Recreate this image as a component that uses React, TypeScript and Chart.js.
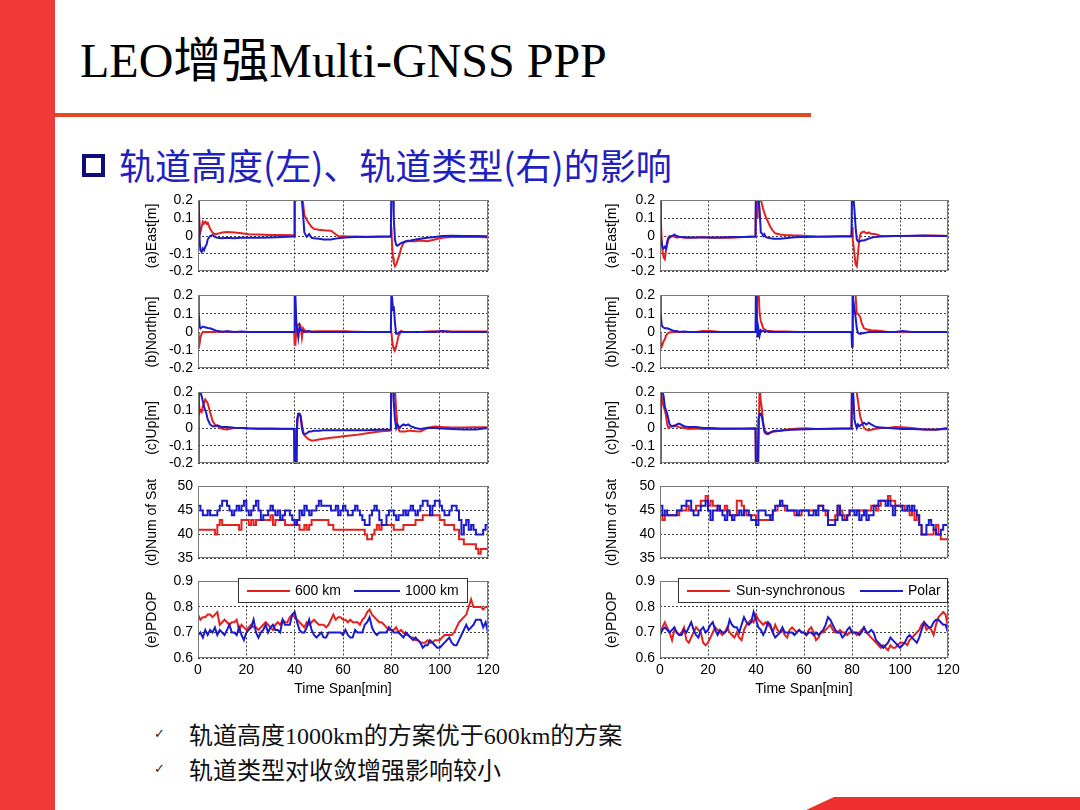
import React, { useEffect, useRef } from 'react';
import { Chart, registerables } from 'chart.js';
Chart.register(...registerables);
Chart.defaults.font.family = '"Liberation Sans", Arial, sans-serif';
Chart.defaults.color = '#000';

// ---------- time axes ----------
const T_POS = [0, 0.3, 0.7, 1, 1.5, 2, 2.5, 3, 3.5, 4, 5, 6, 7, 8, 10, 12, 15, 18, 21, 25, 30, 35, 39.8,
  40, 40.3, 40.7, 41, 41.5, 42, 42.5, 43, 43.5, 44, 45, 46, 47, 48, 50, 52, 55, 58, 61, 65, 70, 75, 79.8,
  80, 80.3, 80.7, 81, 81.5, 82, 82.5, 83, 83.5, 84, 85, 86, 87, 88, 90, 92, 95, 98, 101, 105, 110, 115, 120];
const MINUTES = Array.from({ length: 121 }, (_, i) => i);
const X_TICKS = [0, 20, 40, 60, 80, 100, 120];

// ---------- left: orbit height (600 km red, 1000 km blue) ----------
const eastL600 = [0.3, 0.15, 0.03, 0.02, 0.05, 0.08, 0.07, 0.08, 0.07, 0.075, 0.04, 0.02, 0.01, 0.012, 0.02, 0.022, 0.02, 0.015, 0.01, 0.008, 0.006, 0.005, 0.004,
  0.3, 0.35, 0.3, 0.3, 0.25, 0.3, 0.25, 0.22, 0.18, 0.12, 0.09, 0.07, 0.05, 0.04, 0.035, 0.032, 0.03, 0.0, -0.002, -0.003, -0.004, -0.003, -0.003,
  0.05, -0.05, -0.12, -0.15, -0.17, -0.16, -0.14, -0.12, -0.1, -0.07, -0.04, -0.03, -0.025, -0.03, -0.03, -0.025, -0.03, -0.02, -0.01, -0.005, -0.005, -0.004, -0.008];
const eastL1000 = [0.3, 0.2, -0.03, -0.08, -0.09, -0.07, -0.08, -0.06, -0.05, -0.02, 0.0, 0.005, -0.005, -0.01, -0.012, -0.01, -0.012, -0.01, -0.01, -0.01, -0.008, -0.005, -0.003,
  0.3, 0.3, 0.25, 0.22, 0.25, 0.22, 0.22, 0.2, 0.12, 0.02, -0.005, 0.01, -0.01, -0.012, -0.015, -0.02, -0.02, -0.012, -0.008, -0.006, -0.005, -0.004, -0.003,
  0.3, 0.3, 0.25, 0.1, -0.02, -0.05, -0.055, -0.05, -0.045, -0.04, -0.035, -0.03, -0.03, -0.025, -0.02, -0.015, -0.01, -0.005, 0.0, 0.002, 0.0, 0.0, -0.002];
const northL600 = [0.0, -0.09, -0.06, -0.03, -0.01, 0.0, 0.0, 0.0, 0.0, 0.0, 0.0, 0.0, 0.0, 0.003, 0.0, 0.003, 0.0, 0.0, 0.0, 0.0, 0.0, 0.0, 0.0,
  -0.07, -0.07, 0.02, 0.04, 0.04, 0.045, 0.03, -0.03, 0.02, 0.01, 0.005, 0.0, 0.003, 0.003, 0.004, 0.004, 0.004, 0.004, 0.004, 0.002, 0.0, 0.0, 0.0,
  0.0, -0.04, -0.08, -0.09, -0.1, -0.08, -0.05, -0.02, -0.01, 0.005, 0.0, 0.0, 0.0, 0.0, 0.0, 0.0, 0.003, 0.004, 0.003, 0.003, 0.003, 0.003, 0.003];
const northL1000 = [0.3, 0.1, 0.03, 0.02, 0.025, 0.03, 0.028, 0.025, 0.025, 0.022, 0.02, 0.015, 0.01, 0.005, 0.002, 0.004, 0.0, 0.003, 0.0, 0.0, 0.0, 0.0, 0.0,
  0.25, 0.2, 0.05, 0.02, -0.03, 0.03, 0.01, 0.01, 0.005, 0.0, 0.003, 0.005, 0.0, 0.0, 0.0, 0.0, 0.0, 0.0, 0.0, 0.0, 0.0, 0.0, 0.0,
  0.2, 0.19, 0.12, 0.14, 0.05, -0.01, -0.01, -0.005, 0.0, 0.0, 0.0, 0.0, 0.0, 0.0, 0.0, 0.0, 0.0, 0.0, 0.005, 0.0, 0.0, 0.0, 0.0];
const upL600 = [0.25, 0.15, 0.09, 0.1, 0.09, 0.12, 0.14, 0.16, 0.15, 0.14, 0.09, 0.04, 0.02, 0.01, -0.005, -0.008, 0.0, 0.0, -0.003, -0.005, -0.006, -0.005, -0.005,
  -0.3, -0.3, -0.25, 0.0, 0.08, 0.08, 0.07, 0.02, -0.02, -0.04, -0.055, -0.065, -0.07, -0.07, -0.065, -0.06, -0.055, -0.05, -0.045, -0.04, -0.03, -0.02, -0.015,
  0.3, 0.3, 0.3, 0.25, 0.22, 0.1, 0.02, -0.01, -0.02, -0.02, -0.02, -0.02, -0.015, -0.015, -0.018, -0.02, 0.0, 0.008, 0.005, 0.003, 0.003, 0.004, 0.004];
const upL1000 = [-0.3, 0.25, 0.2, 0.2, 0.18, 0.15, 0.12, 0.1, 0.08, 0.05, 0.02, 0.01, 0.01, 0.015, 0.005, 0.005, 0.002, 0.0, -0.002, -0.003, -0.003, -0.004, -0.004,
  -0.3, -0.3, -0.25, 0.05, 0.08, 0.08, 0.06, 0.0, -0.03, -0.035, -0.03, -0.02, -0.02, -0.015, -0.015, -0.012, -0.012, -0.012, -0.012, -0.012, -0.012, -0.01, -0.008,
  0.3, 0.3, 0.25, 0.15, 0.05, 0.0, 0.02, 0.01, 0.0, 0.01, 0.02, 0.015, 0.02, 0.01, 0.0, -0.005, 0.002, 0.0, -0.003, -0.005, -0.008, -0.008, 0.0];
const satL600 = [41, 41, 41, 41, 41, 41, 41, 40, 42, 43, 42, 42, 42, 42, 42, 42, 42, 41, 43, 43,
  43, 42, 43, 42, 43, 43, 43, 43, 43, 43, 44, 42, 43, 43, 43, 43, 42, 42, 42, 42,
  43, 42, 41, 41, 42, 41, 42, 43, 43, 43, 43, 43, 43, 43, 42, 42, 41, 41, 41, 41,
  41, 41, 41, 41, 41, 41, 41, 41, 41, 40, 39, 39, 40, 41, 42, 41, 42, 42, 42, 42,
  42, 41, 41, 41, 41, 42, 42, 42, 42, 42, 43, 43, 43, 44, 44, 44, 44, 44, 44, 44,
  43, 43, 42, 42, 42, 42, 41, 41, 39, 39, 38, 38, 38, 38, 38, 37, 36, 37, 37, 37, 37];
const satL1000 = [46, 45, 44, 44, 45, 44, 44, 44, 45, 46, 47, 47, 46, 45, 44, 45, 46, 45, 46, 47,
  45, 44, 45, 46, 47, 45, 43, 44, 44, 45, 46, 45, 44, 45, 43, 44, 45, 45, 44, 43,
  42, 43, 45, 44, 46, 45, 44, 45, 45, 46, 47, 46, 46, 46, 46, 45, 45, 46, 44, 45,
  46, 45, 44, 44, 45, 46, 45, 44, 43, 42, 42, 44, 45, 46, 45, 43, 42, 42, 44, 45,
  45, 44, 43, 44, 44, 45, 44, 45, 46, 45, 44, 45, 46, 47, 47, 46, 44, 46, 47, 47,
  46, 45, 44, 44, 45, 46, 46, 45, 43, 40, 42, 43, 41, 42, 41, 40, 40, 40, 41, 42, 42];
const pdopL600 = [0.77, 0.75, 0.76, 0.76, 0.77, 0.77, 0.76, 0.77, 0.78, 0.73, 0.74, 0.75, 0.74, 0.73, 0.74, 0.74, 0.75, 0.71, 0.73, 0.72,
  0.71, 0.72, 0.73, 0.72, 0.72, 0.71, 0.72, 0.73, 0.74, 0.73, 0.72, 0.71, 0.73, 0.74, 0.73, 0.75, 0.74, 0.74, 0.76, 0.77,
  0.76, 0.75, 0.74, 0.73, 0.72, 0.74, 0.73, 0.74, 0.75, 0.74, 0.73, 0.73, 0.73, 0.72, 0.73, 0.75, 0.77, 0.75, 0.76, 0.76,
  0.75, 0.75, 0.74, 0.75, 0.74, 0.74, 0.74, 0.73, 0.75, 0.76, 0.78, 0.79, 0.77, 0.76, 0.75, 0.74, 0.74, 0.73, 0.72, 0.71,
  0.71, 0.71, 0.72, 0.70, 0.71, 0.70, 0.69, 0.69, 0.68, 0.68, 0.67, 0.67, 0.66, 0.66, 0.66, 0.67, 0.66, 0.66, 0.67, 0.67,
  0.67, 0.68, 0.69, 0.69, 0.69, 0.69, 0.70, 0.72, 0.74, 0.75, 0.76, 0.77, 0.80, 0.83, 0.80, 0.80, 0.80, 0.80, 0.79, 0.80, 0.80];
const pdopL1000 = [0.69, 0.70, 0.68, 0.71, 0.69, 0.71, 0.70, 0.72, 0.69, 0.71, 0.70, 0.69, 0.71, 0.73, 0.70, 0.70, 0.69, 0.72, 0.69, 0.67,
  0.70, 0.71, 0.72, 0.75, 0.70, 0.68, 0.70, 0.71, 0.73, 0.70, 0.72, 0.73, 0.71, 0.71, 0.70, 0.75, 0.73, 0.73, 0.73, 0.77,
  0.78, 0.74, 0.71, 0.70, 0.70, 0.72, 0.75, 0.71, 0.69, 0.68, 0.69, 0.70, 0.68, 0.68, 0.70, 0.70, 0.70, 0.70, 0.70, 0.70,
  0.69, 0.71, 0.69, 0.68, 0.68, 0.71, 0.70, 0.70, 0.70, 0.73, 0.74, 0.76, 0.72, 0.70, 0.69, 0.70, 0.70, 0.70, 0.70, 0.72,
  0.71, 0.70, 0.70, 0.70, 0.69, 0.68, 0.70, 0.69, 0.68, 0.67, 0.68, 0.67, 0.66, 0.64, 0.65, 0.65, 0.67, 0.66, 0.65, 0.64,
  0.64, 0.65, 0.66, 0.67, 0.68, 0.66, 0.65, 0.65, 0.67, 0.69, 0.71, 0.73, 0.71, 0.72, 0.73, 0.75, 0.75, 0.75, 0.72, 0.74, 0.70];

// ---------- right: orbit type (sun-synchronous red, polar blue) ----------
const eastRSun = [0.3, 0.1, -0.02, -0.08, -0.12, -0.13, -0.08, -0.05, -0.02, 0.0, 0.0, -0.005, -0.01, -0.005, -0.01, -0.01, -0.008, -0.005, -0.01, -0.008, -0.01, -0.005, -0.003,
  0.3, 0.25, 0.1, 0.25, 0.3, 0.2, 0.18, 0.15, 0.13, 0.11, 0.08, 0.05, 0.03, 0.015, 0.008, 0.006, 0.004, 0.003, 0.0, -0.003, -0.004, -0.003, -0.002,
  0.05, -0.02, -0.06, -0.1, -0.16, -0.17, -0.1, -0.02, 0.01, 0.02, 0.025, 0.015, 0.02, 0.012, 0.01, 0.0, 0.0, 0.0, 0.0, 0.0, 0.002, 0.003, 0.0];
const eastRPolar = [0.3, 0.0, -0.04, -0.06, -0.07, -0.06, -0.07, -0.03, -0.01, -0.01, 0.0, 0.008, 0.0, -0.005, -0.005, -0.008, -0.008, -0.008, -0.008, -0.008, -0.006, -0.005, -0.003,
  0.3, 0.3, 0.25, 0.22, 0.15, 0.02, 0.015, 0.0, 0.01, -0.005, -0.01, -0.012, -0.015, -0.015, -0.015, -0.012, -0.008, -0.005, -0.005, -0.004, -0.003, -0.002, -0.002,
  0.3, 0.25, 0.2, 0.15, 0.05, -0.02, -0.03, -0.03, -0.03, -0.025, -0.025, -0.02, -0.015, -0.01, -0.005, -0.003, -0.002, 0.0, 0.0, 0.002, 0.003, 0.0, 0.0];
const northRSun = [0.0, -0.06, -0.08, -0.07, -0.05, -0.04, -0.02, -0.01, -0.005, -0.003, 0.0, 0.0, 0.0, 0.0, 0.0, 0.0, 0.0, 0.005, 0.005, 0.0, 0.0, 0.0, 0.0,
  0.0, 0.3, 0.3, 0.25, 0.1, 0.06, 0.04, 0.02, 0.015, 0.01, 0.005, 0.005, 0.004, 0.003, 0.003, 0.003, 0.002, 0.0, 0.0, 0.0, 0.0, 0.0, 0.0,
  0.0, 0.3, 0.3, 0.25, 0.2, 0.1, 0.1, 0.09, 0.08, 0.05, 0.02, 0.015, 0.012, 0.01, 0.008, 0.005, 0.0, 0.0, 0.0, 0.0, 0.0, 0.0, 0.0];
const northRPolar = [0.3, 0.1, 0.04, 0.03, 0.025, 0.02, 0.02, 0.02, 0.018, 0.015, 0.01, 0.005, 0.005, 0.0, 0.003, 0.0, 0.0, 0.0, 0.0, 0.0, 0.0, 0.0, 0.0,
  0.3, 0.1, -0.03, 0.02, -0.02, 0.01, 0.005, 0.005, 0.003, 0.003, 0.003, 0.0, 0.0, 0.0, 0.0, 0.0, 0.0, 0.0, 0.0, 0.0, 0.0, 0.0, 0.0,
  -0.08, 0.25, 0.1, 0.13, 0.08, 0.02, -0.005, -0.01, -0.01, -0.008, -0.005, -0.003, 0.0, 0.0, 0.0, 0.0, 0.0, 0.0, 0.005, 0.0, 0.0, 0.0, 0.0];
const upRSun = [0.05, 0.2, 0.18, 0.15, 0.12, 0.1, 0.07, 0.02, 0.0, 0.005, 0.01, 0.015, 0.01, 0.005, 0.0, -0.005, -0.003, -0.005, -0.004, -0.005, -0.006, -0.003, -0.002,
  -0.3, -0.3, -0.25, -0.2, 0.25, 0.15, 0.1, 0.03, -0.01, -0.02, -0.03, -0.025, -0.02, -0.02, -0.015, -0.01, -0.005, -0.003, -0.002, -0.005, -0.005, -0.004, -0.003,
  0.3, 0.3, 0.3, 0.3, 0.25, 0.2, 0.15, 0.1, 0.06, 0.04, 0.0, -0.01, -0.012, -0.01, -0.005, 0.0, 0.0, 0.005, 0.004, 0.0, -0.008, -0.008, -0.005];
const upRPolar = [-0.3, 0.2, 0.25, 0.2, 0.18, 0.12, 0.1, 0.08, 0.05, 0.02, 0.01, 0.01, 0.02, 0.025, 0.01, 0.005, 0.005, 0.0, 0.0, -0.003, -0.003, -0.004, -0.003,
  -0.3, -0.3, -0.25, 0.05, 0.08, 0.08, 0.06, 0.02, -0.02, -0.03, -0.035, -0.025, -0.02, -0.015, -0.015, -0.012, -0.01, -0.008, -0.007, -0.005, -0.004, -0.003, -0.003,
  0.3, 0.3, 0.15, 0.05, 0.02, 0.0, 0.02, 0.01, 0.015, 0.02, 0.03, 0.02, 0.03, 0.02, 0.005, 0.003, 0.0, -0.003, -0.005, -0.005, -0.008, -0.01, 0.0];
const satRSun = [44, 43, 44, 44, 44, 44, 44, 44, 45, 45, 45, 46, 45, 45, 45, 46, 46, 47, 47, 48,
  46, 47, 46, 46, 45, 45, 45, 46, 45, 44, 44, 44, 47, 47, 46, 45, 44, 44, 44, 44,
  43, 43, 43, 43, 43, 43, 44, 45, 45, 46, 46, 46, 45, 45, 45, 45, 44, 44, 44, 45,
  45, 45, 45, 45, 45, 45, 46, 46, 45, 44, 43, 43, 43, 44, 46, 45, 44, 43, 44, 45,
  45, 45, 45, 45, 45, 44, 45, 45, 46, 46, 45, 46, 47, 47, 47, 48, 47, 47, 46, 46,
  46, 46, 45, 45, 44, 45, 43, 44, 42, 40, 40, 40, 40, 40, 41, 42, 40, 39, 39, 39, 40];
const satRPolar = [46, 44, 45, 44, 44, 44, 44, 45, 45, 46, 46, 47, 47, 45, 44, 44, 45, 46, 46, 47,
  45, 43, 45, 45, 46, 45, 44, 43, 45, 44, 43, 44, 44, 45, 44, 45, 45, 44, 43, 43,
  42, 45, 45, 45, 44, 44, 43, 45, 46, 46, 47, 46, 46, 45, 45, 45, 45, 44, 45, 45,
  45, 45, 44, 44, 45, 44, 46, 46, 45, 45, 42, 42, 42, 43, 46, 44, 43, 43, 44, 45,
  45, 44, 45, 43, 44, 45, 43, 44, 44, 46, 46, 47, 47, 47, 46, 47, 46, 44, 46, 46,
  46, 45, 45, 46, 45, 46, 45, 44, 42, 40, 40, 42, 43, 42, 41, 40, 40, 41, 42, 42, 41];
const pdopRSun = [0.69, 0.72, 0.74, 0.72, 0.70, 0.67, 0.71, 0.70, 0.69, 0.70, 0.72, 0.67, 0.66, 0.68, 0.70, 0.72, 0.71, 0.70, 0.66, 0.65,
  0.66, 0.68, 0.70, 0.72, 0.71, 0.70, 0.69, 0.70, 0.72, 0.70, 0.69, 0.68, 0.70, 0.68, 0.67, 0.71, 0.73, 0.74, 0.75, 0.74,
  0.77, 0.75, 0.74, 0.73, 0.74, 0.73, 0.72, 0.70, 0.73, 0.71, 0.70, 0.71, 0.69, 0.68, 0.71, 0.72, 0.71, 0.70, 0.71, 0.70,
  0.70, 0.69, 0.71, 0.72, 0.70, 0.67, 0.68, 0.70, 0.70, 0.71, 0.72, 0.73, 0.71, 0.70, 0.70, 0.71, 0.70, 0.70, 0.69, 0.70,
  0.70, 0.70, 0.69, 0.70, 0.71, 0.72, 0.70, 0.69, 0.68, 0.67, 0.66, 0.65, 0.64, 0.65, 0.64, 0.63, 0.65, 0.64, 0.64, 0.65,
  0.66, 0.66, 0.66, 0.65, 0.67, 0.68, 0.69, 0.70, 0.71, 0.73, 0.74, 0.71, 0.72, 0.71, 0.69, 0.73, 0.76, 0.77, 0.78, 0.77, 0.72];
const pdopRPolar = [0.69, 0.71, 0.72, 0.71, 0.70, 0.71, 0.72, 0.70, 0.69, 0.69, 0.71, 0.70, 0.72, 0.74, 0.71, 0.69, 0.68, 0.71, 0.72, 0.70,
  0.71, 0.73, 0.74, 0.71, 0.69, 0.71, 0.70, 0.70, 0.71, 0.75, 0.73, 0.72, 0.72, 0.70, 0.73, 0.76, 0.74, 0.73, 0.74, 0.78,
  0.75, 0.72, 0.71, 0.69, 0.71, 0.74, 0.73, 0.70, 0.68, 0.69, 0.70, 0.72, 0.70, 0.70, 0.70, 0.70, 0.69, 0.70, 0.71, 0.70,
  0.70, 0.69, 0.70, 0.70, 0.69, 0.70, 0.69, 0.70, 0.71, 0.73, 0.76, 0.75, 0.73, 0.71, 0.70, 0.70, 0.68, 0.69, 0.71, 0.72,
  0.70, 0.70, 0.70, 0.69, 0.70, 0.72, 0.70, 0.70, 0.71, 0.70, 0.67, 0.66, 0.65, 0.64, 0.65, 0.66, 0.68, 0.67, 0.66, 0.65,
  0.64, 0.65, 0.66, 0.68, 0.69, 0.68, 0.67, 0.66, 0.68, 0.71, 0.74, 0.73, 0.72, 0.72, 0.74, 0.75, 0.75, 0.74, 0.73, 0.73, 0.70];

const Y_LABELS = ['(a)East[m]', '(b)North[m]', '(c)Up[m]', '(d)Num of Sat', '(e)PDOP'];
const LEGEND_LEFT = ['600 km', '1000 km'];
const LEGEND_RIGHT = ['Sun-synchronous', 'Polar'];

const RED = '#e3221f';
const BLUE = '#1b1bcc';

const ROWS = [
  { top: 197, h: 78 },
  { top: 292, h: 80 },
  { top: 389, h: 78 },
  { top: 483, h: 79 },
  { top: 578, h: 80 },
];
const Y_RANGES = [
  { min: -0.2, max: 0.2, step: 0.1 },
  { min: -0.2, max: 0.2, step: 0.1 },
  { min: -0.2, max: 0.2, step: 0.1 },
  { min: 35, max: 50, step: 5 },
  { min: 0.6, max: 0.9, step: 0.1 },
];

type Series = { x: number[]; y: number[]; color: string; stepped?: boolean; order: number };

const boxPlugin = {
  id: 'matlabBox',
  afterDraw(chart: any) {
    const { ctx, chartArea: a } = chart;
    ctx.save();
    ctx.strokeStyle = '#7a7a7a';
    ctx.lineWidth = 1;
    ctx.strokeRect(Math.round(a.left) + 0.5, Math.round(a.top) + 0.5, Math.round(a.right - a.left) - 1, Math.round(a.bottom - a.top) - 1);
    ctx.restore();
  },
};

function Panel(props: { left: number; row: number; yW: number; plotW: number; label: string; series: Series[] }) {
  const { left, row, yW, plotW, label, series } = props;
  const ref = useRef<HTMLCanvasElement>(null);
  const bottom = row === 4;
  const r = ROWS[row];
  const yr = Y_RANGES[row];
  const padTop = 10, padRight = 16, padBottom = bottom ? 2 : 10, xH = bottom ? 41 : 0;
  const W = yW + plotW + padRight;
  const H = padTop + r.h + xH + padBottom;
  useEffect(() => {
    const chart = new Chart(ref.current as HTMLCanvasElement, {
      type: 'line',
      data: {
        datasets: series.map((s) => ({
          data: s.x.map((x, j) => ({ x, y: s.y[j] })),
          borderColor: s.color,
          backgroundColor: s.color,
          borderWidth: 2,
          pointRadius: 0,
          tension: 0,
          stepped: s.stepped ? 'before' : false,
          order: s.order,
          fill: false,
        })),
      },
      options: {
        responsive: false,
        animation: false,
        devicePixelRatio: 1,
        events: [],
        layout: { padding: { top: padTop, right: padRight, bottom: padBottom, left: 0 } },
        plugins: { legend: { display: false }, tooltip: { enabled: false } },
        scales: {
          x: {
            type: 'linear',
            min: 0,
            max: 120,
            afterBuildTicks: (s: any) => { s.ticks = X_TICKS.map((v) => ({ value: v })); },
            ticks: { display: bottom, autoSkip: false, maxRotation: 0, padding: 4, color: '#000', font: { size: 14 } },
            grid: { color: 'rgba(0,0,0,0.75)', lineWidth: 1, drawTicks: false },
            border: { display: false, dash: [2, 2] },
            title: { display: bottom, text: 'Time Span[min]', color: '#000', font: { size: 14 }, padding: { top: 0, bottom: 1 } },
            afterFit: (s: any) => { s.height = xH; },
          },
          y: {
            min: yr.min,
            max: yr.max,
            ticks: { stepSize: yr.step, autoSkip: false, padding: 5, color: '#000', font: { size: 14 } },
            grid: { color: 'rgba(0,0,0,0.75)', lineWidth: 1, drawTicks: false },
            border: { display: false, dash: [2, 2] },
            title: { display: true, text: label, color: '#000', font: { size: 14 }, padding: { top: 4, bottom: 0 } },
            afterFit: (s: any) => { s.width = yW; },
          },
        },
      } as any,
      plugins: [boxPlugin],
    });
    return () => chart.destroy();
  }, []);
  return (
    <canvas
      ref={ref}
      width={W}
      height={H}
      style={{ position: 'absolute', left, top: r.top - padTop, width: W, height: H }}
    />
  );
}

function Legend(props: { left: number; width: number; items: string[]; seg: number[][]; textX: number[] }) {
  const { left, width, items, seg, textX } = props;
  const top = 578;
  const h = 25;
  return (
    <div style={{ position: 'absolute', left: 0, top: 0 }}>
      <div style={{ position: 'absolute', left, top, width, height: h, border: '1px solid #333', background: '#fff', boxSizing: 'border-box' }} />
      {items.map((t, i) => (
        <React.Fragment key={t}>
          <div style={{ position: 'absolute', left: seg[i][0], top: top + 12, width: seg[i][1] - seg[i][0], height: 2, background: i === 0 ? RED : BLUE }} />
          <div style={{ position: 'absolute', left: textX[i], top: top + 4, fontFamily: '"Liberation Sans", Arial, sans-serif', fontSize: 14, lineHeight: '16px', color: '#000', whiteSpace: 'nowrap' }}>{t}</div>
        </React.Fragment>
      ))}
    </div>
  );
}

export default function App() {
  const leftSeries: Series[][] = [
    [{ x: T_POS, y: eastL600, color: RED, order: 1 }, { x: T_POS, y: eastL1000, color: BLUE, order: 0 }],
    [{ x: T_POS, y: northL600, color: RED, order: 1 }, { x: T_POS, y: northL1000, color: BLUE, order: 0 }],
    [{ x: T_POS, y: upL600, color: RED, order: 1 }, { x: T_POS, y: upL1000, color: BLUE, order: 0 }],
    [{ x: MINUTES, y: satL600, color: RED, stepped: true, order: 1 }, { x: MINUTES, y: satL1000, color: BLUE, stepped: true, order: 0 }],
    [{ x: MINUTES, y: pdopL600, color: RED, order: 1 }, { x: MINUTES, y: pdopL1000, color: BLUE, order: 0 }],
  ];
  const rightSeries: Series[][] = [
    [{ x: T_POS, y: eastRSun, color: RED, order: 1 }, { x: T_POS, y: eastRPolar, color: BLUE, order: 0 }],
    [{ x: T_POS, y: northRSun, color: RED, order: 1 }, { x: T_POS, y: northRPolar, color: BLUE, order: 0 }],
    [{ x: T_POS, y: upRSun, color: RED, order: 1 }, { x: T_POS, y: upRPolar, color: BLUE, order: 0 }],
    [{ x: MINUTES, y: satRSun, color: RED, stepped: true, order: 1 }, { x: MINUTES, y: satRPolar, color: BLUE, stepped: true, order: 0 }],
    [{ x: MINUTES, y: pdopRSun, color: RED, order: 1 }, { x: MINUTES, y: pdopRPolar, color: BLUE, order: 0 }],
  ];
  return (
    <div style={{ position: 'fixed', left: 0, top: 0, width: 1080, height: 810, background: '#fff', overflow: 'hidden' }}>
      <div style={{ position: 'absolute', left: 0, top: 0, width: 55, height: 810, background: '#f03a3a' }} />
      <div style={{ position: 'absolute', left: 80, top: 35, fontFamily: '"Liberation Serif", "Times New Roman", "Noto Sans CJK SC", serif', fontSize: 48, lineHeight: '52px', color: '#000', whiteSpace: 'nowrap' }}>
        LEO增强Multi-GNSS PPP
      </div>
      <div style={{ position: 'absolute', left: 55, top: 113, width: 756, height: 4, background: '#df4a22' }} />
      <div style={{ position: 'absolute', left: 82, top: 154, width: 23, height: 23, border: '4px solid #0d0d7a', boxSizing: 'border-box' }} />
      <div style={{ position: 'absolute', left: 119, top: 142, fontFamily: '"Noto Sans CJK SC", sans-serif', fontSize: 36, lineHeight: '44px', color: '#2121c0', whiteSpace: 'nowrap' }}>
        轨道高度(左)、轨道类型(右)的影响
      </div>

      {Y_LABELS.map((lab, i) => (
        <Panel key={'L' + i} left={140} row={i} yW={58} plotW={290} label={lab} series={leftSeries[i]} />
      ))}
      {Y_LABELS.map((lab, i) => (
        <Panel key={'R' + i} left={600} row={i} yW={60} plotW={288} label={lab} series={rightSeries[i]} />
      ))}
      <Legend left={238} width={230} items={LEGEND_LEFT} seg={[[247, 290], [354, 400]]} textX={[295, 405]} />
      <Legend left={678} width={270} items={LEGEND_RIGHT} seg={[[687, 730], [860, 903]]} textX={[736, 908]} />

      <div style={{ position: 'absolute', left: 154, top: 726, fontFamily: '"DejaVu Sans", sans-serif', fontSize: 13, color: '#222' }}>✓</div>
      <div style={{ position: 'absolute', left: 154, top: 761, fontFamily: '"DejaVu Sans", sans-serif', fontSize: 13, color: '#222' }}>✓</div>
      <div style={{ position: 'absolute', left: 189, top: 721, fontFamily: '"Liberation Serif", "Noto Sans CJK SC", serif', fontSize: 24, lineHeight: '30px', color: '#111', whiteSpace: 'nowrap' }}>
        轨道高度1000km的方案优于600km的方案
      </div>
      <div style={{ position: 'absolute', left: 189, top: 756, fontFamily: '"Liberation Serif", "Noto Sans CJK SC", serif', fontSize: 24, lineHeight: '30px', color: '#111', whiteSpace: 'nowrap' }}>
        轨道类型对收敛增强影响较小
      </div>
      <div style={{ position: 'absolute', left: 806, top: 797, width: 274, height: 13, background: '#ee2f2f', clipPath: 'polygon(28px 0, 100% 0, 100% 100%, 0 100%)' }} />
    </div>
  );
}
